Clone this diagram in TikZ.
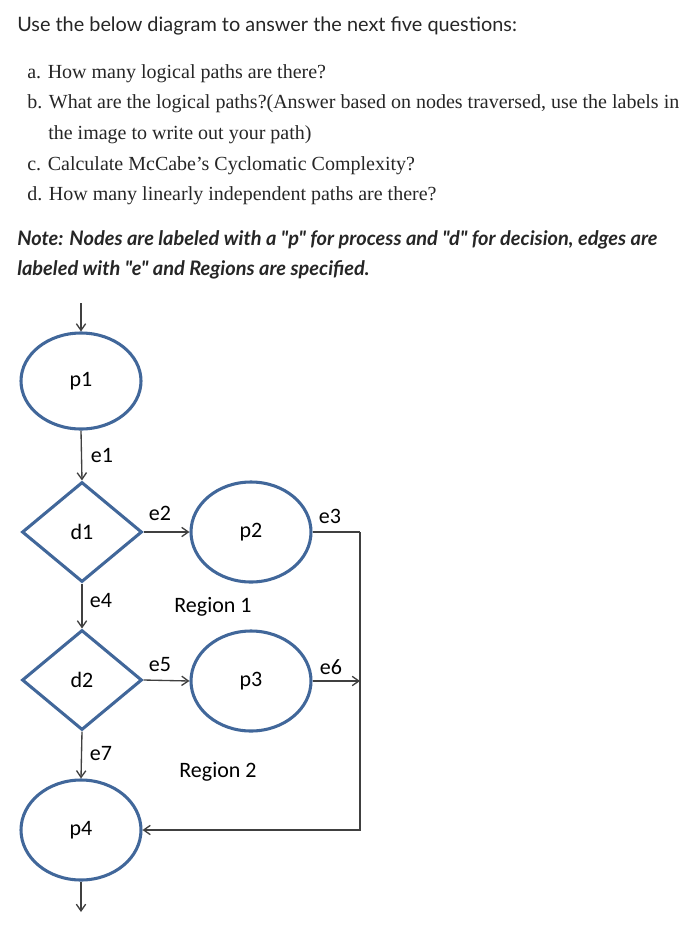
\documentclass[tikz,border=0pt]{standalone}
\usepackage{fontspec}
\setmainfont{Liberation Serif}
\newfontfamily\latofont{Lato}
\newfontfamily\carl{Carlito}
\usetikzlibrary{shapes.geometric,arrows.meta}
\definecolor{nodeblue}{HTML}{41679A}
\definecolor{edgegray}{HTML}{404040}
\tikzset{
  proc/.style={ellipse,draw=nodeblue,line width=2.3pt,minimum width=90pt,minimum height=75pt,inner sep=0pt,font=\carl\fontsize{16.5}{18}\selectfont},
  dec/.style={diamond,draw=nodeblue,line width=2.3pt,minimum width=90pt,minimum height=75pt,inner sep=0pt,font=\carl\fontsize{16.5}{18}\selectfont},
  edge/.style={draw=edgegray,line width=1pt,-{Straight Barb[length=5pt,width=7pt]}},
  lbl/.style={font=\carl\fontsize{16.5}{18}\selectfont,inner sep=0pt},
  txt/.style={anchor=base west,inner sep=0pt,text=black!85},
  qs/.style={txt,font=\fontsize{15}{17}\selectfont}
}
\begin{document}
\begin{tikzpicture}[x=0.75pt,y=-0.75pt]
\useasboundingbox (0,0) rectangle (699,940);
\node[txt,font=\latofont\fontsize{14.9}{17}\selectfont] (title) at (17,31) {Use the below diagram to answer the next five questions:};
\node[qs] (qa) at (27,78) {a. How many logical paths are there?};
\node[qs] (qb) at (27,108) {b. What are the logical paths?(Answer based on nodes traversed, use the labels in};
\node[qs] (qb2) at (48,139) {the image to write out your path)};
\node[qs] (qc) at (27,170) {c. Calculate McCabe's Cyclomatic Complexity?};
\node[qs] (qd) at (27,200) {d. How many linearly independent paths are there?};
\node[txt,font=\latofont\bfseries\itshape\fontsize{15}{17}\selectfont] (n1) at (17,245) {Note: Nodes are labeled with a "p" for process and "d" for decision, edges are};
\node[txt,font=\latofont\bfseries\itshape\fontsize{15}{17}\selectfont] (n2) at (17,275) {labeled with "e" and Regions are specified.};

\node[proc,minimum height=72pt] (p1) at (81,381) {p1};
\node[dec] (d1) at (82,532) {d1};
\node[proc] (p2) at (251,532) {p2};
\node[dec] (d2) at (82,680) {d2};
\node[proc] (p3) at (251,681) {p3};
\node[proc] (p4) at (81,830) {p4};
\coordinate (top) at (81,303);
\coordinate (bot) at (81,912);
\coordinate (cr) at (360,532);

\draw[edge] (top) -- (p1.north);
\draw[edge] (p1.south) -- (d1.north);
\draw[edge] (d1.east) -- (p2.west);
\draw[draw=edgegray,line width=1pt] (p2.east) -- (cr);
\draw[edge] (cr) |- (p4.east);
\draw[edge] (d1.south) -- (d2.north);
\draw[edge] (d2.east) -- (p3.west);
\draw[edge] (p3.east) -- (p3.east -| cr);
\draw[edge] (d2.south) -- (p4.north);
\draw[edge] (p4.south) -- (bot);

\node[lbl] (e1) at (102,455) {e1};
\node[lbl] (e2) at (160,513) {e2};
\node[lbl] (e3) at (330,516) {e3};
\node[lbl] (e4) at (101,601) {e4};
\node[lbl] (e5) at (160,665) {e5};
\node[lbl] (e6) at (331,667) {e6};
\node[lbl] (e7) at (101,754) {e7};
\node[lbl] (r1) at (213,607) {Region 1};
\node[lbl] (r2) at (218,772) {Region 2};
\end{tikzpicture}
\end{document}
